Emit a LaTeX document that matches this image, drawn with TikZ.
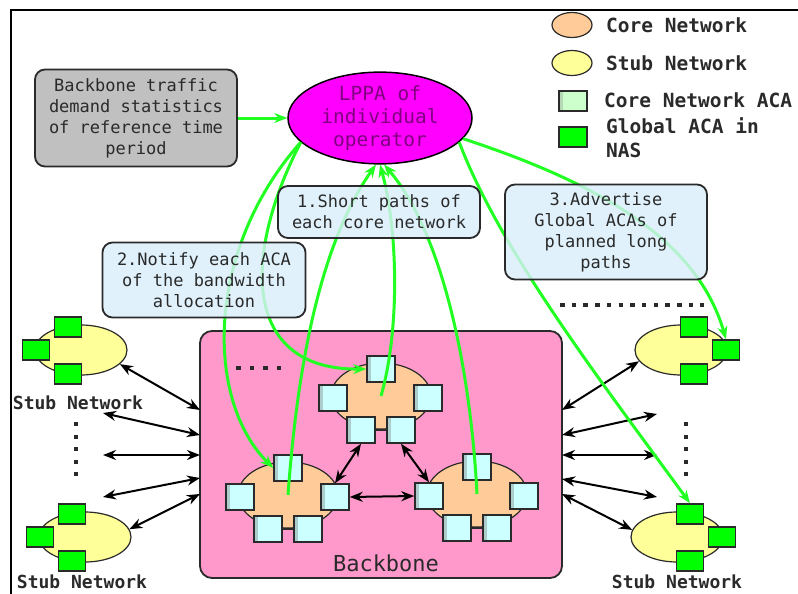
\documentclass[tikz,border=0pt]{standalone}
\usepackage{fontspec}
\newfontfamily\boxfont{DejaVu Sans Mono}
\usetikzlibrary{arrows.meta,shapes.geometric,calc}

\definecolor{agreen}{HTML}{22FF22}
\definecolor{gaca}{HTML}{00FF00}
\definecolor{caca}{HTML}{CCFFFF}
\definecolor{legaca}{HTML}{CCFFCC}
\definecolor{coref}{HTML}{FFCC99}
\definecolor{stubf}{HTML}{FFFF99}
\definecolor{bbf}{HTML}{FF99CC}
\definecolor{boxf}{HTML}{D9EEFB}
\definecolor{grayf}{HTML}{C0C0C0}
\definecolor{lppaf}{HTML}{FF00FF}
\definecolor{lppat}{HTML}{800080}
\definecolor{ink}{HTML}{2A2A2A}

\tikzset{
  leftshade/.style={path picture={\fill[#1] (path picture bounding box.south west) rectangle ([xshift=4pt]path picture bounding box.north west);}},
  coreell/.style={ellipse, draw=ink, line width=1.2pt, fill=coref, minimum width=100pt, minimum height=66pt, inner sep=0pt},
  acasq/.style={rectangle, draw=ink, line width=1.5pt, fill=caca, leftshade=caca!60!gray, minimum width=28pt, minimum height=26pt, inner sep=0pt},
  stubell/.style={ellipse, draw=ink, line width=1.2pt, fill=stubf, minimum width=92pt, minimum height=50pt, inner sep=0pt},
  gsq/.style={rectangle, draw=ink, line width=1.5pt, fill=gaca, minimum width=27pt, minimum height=20pt, inner sep=0pt},
  msgbox/.style={rectangle, draw=ink, line width=1.8pt, rounded corners=10pt, fill=boxf, fill opacity=0.8, text opacity=1, text=ink, align=center, inner sep=0pt, font=\boxfont\fontsize{17}{21}\selectfont},
  lppa/.style={ellipse, draw=black, line width=1.5pt, fill=lppaf, minimum width=184pt, minimum height=90pt, inner sep=0pt, align=center, text=lppat, font=\boxfont\fontsize{19.5}{23}\selectfont},
  legtext/.style={anchor=west, align=left, text=ink, inner sep=0pt, font=\boxfont\bfseries\fontsize{19.5}{24}\selectfont},
  stubtext/.style={text=ink, inner sep=0pt, font=\boxfont\bfseries\fontsize{18}{22}\selectfont},
  garrow/.style={draw=agreen, line width=3pt, -{Stealth[length=13pt,width=10pt]}},
  dbl/.style={draw=black, line width=2pt, {Stealth[length=13pt,width=10pt]}-{Stealth[length=13pt,width=10pt]}},
  dotline/.style={draw=ink, line width=4pt},
}

% a core network: ellipse with five core ACA squares
\newcommand\corenet[3]{%
  \node[coreell] (#1) at (#2,#3) {};
  \draw[ink, line width=1.2pt] ($(#1)+(-20,34)$) -- ($(#1)+(20,34)$);
  \node[acasq] (#1-t) at ($(#1)+(0,-27)$) {};
  \node[acasq] (#1-l) at ($(#1)+(-48,2)$) {};
  \node[acasq] (#1-r) at ($(#1)+(47,2)$) {};
  \node[acasq] (#1-bl) at ($(#1)+(-20,34)$) {};
  \node[acasq] (#1-br) at ($(#1)+(20,34)$) {};
}
% a stub network: ellipse with three global ACA squares; #4 = -1 (left) or 1 (right)
\newcommand\stubnet[4]{%
  \node[stubell] (#1) at (#2,#3) {};
  \node[gsq] (#1-t) at ($(#1)+(#4*13,-23)$) {};
  \node[gsq] (#1-s) at ($(#1)+(#4*45,0)$) {};
  \node[gsq] (#1-b) at ($(#1)+(#4*13,24)$) {};
}

\begin{document}
\begin{tikzpicture}[x=1pt,y=-1pt]
\useasboundingbox (0,0) rectangle (798,594);
\clip (0,0) rectangle (798,594);
\fill[white] (0,0) rectangle (798,594);

% frame
\draw[black, line width=2pt] (11,600) -- (11,10) -- (805,10);

% legend
\node[coreell, minimum width=40pt, minimum height=25pt] (lgcore) at (572,25) {};
\node[legtext] (lgcoret) at (606,25) {Core Network};
\node[stubell, minimum width=40pt, minimum height=25pt] (lgstub) at (572,63) {};
\node[legtext] (lgstubt) at (606,63) {Stub Network};
\node[acasq, fill=legaca, leftshade=legaca!70!gray, minimum width=28pt, minimum height=20pt] (lgaca) at (573,101) {};
\node[legtext] (lgacat) at (604,100) {Core Network ACA};
\node[gsq, minimum width=28pt, minimum height=20pt] (lggaca) at (573,137) {};
\node[legtext, anchor=north west] (lggacat) at (606,117) {Global ACA in\\NAS};

% backbone with its three core networks
\node[rectangle, draw=ink, line width=1.8pt, rounded corners=12pt, fill=bbf, minimum width=362pt, minimum height=247pt] (bb) at (381,454.5) {};
\node[text=ink, inner sep=0pt, font=\boxfont\fontsize{22}{26}\selectfont] (bbt) at (386,563) {Backbone};
\draw[dotline, dash pattern=on 4.5pt off 9pt] (236,368) -- (281,368);
\corenet{tc}{381}{396}
\corenet{blc}{288}{495}
\corenet{brc}{477}{494}
\draw[dbl] (tc-bl.south) -- (blc-r.north);
\draw[dbl] (tc-br.south) -- (brc-l.north);
\draw[dbl] (blc-r.east) -- (brc-l.west);

% stub networks
\stubnet{stl}{81}{350}{-1}
\stubnet{sbl}{85}{537}{-1}
\stubnet{str}{681}{350}{1}
\stubnet{sbr}{677}{537}{1}
\node[stubtext] (stlt) at (78,403) {Stub Network};
\node[stubtext] (sblt) at (82,582) {Stub Network};
\node[stubtext] (sbrt) at (677,582) {Stub Network};
\draw[dotline, dash pattern=on 4pt off 8.5pt] (76,422) -- (76,477);
\draw[dotline, dash pattern=on 4pt off 8.5pt] (686,422) -- (686,477);
\draw[dotline, dash pattern=on 4.5pt off 7.2pt] (560,305) -- (704,305);

% links between stub networks and the backbone
\coordinate (lb1) at (200,410);
\coordinate (lb2) at (200,435);
\coordinate (lb3) at (200,455);
\coordinate (lb4) at (200,478);
\coordinate (lb5) at (200,494);
\coordinate (rb1) at (562,410);
\coordinate (rb2) at (562,435);
\coordinate (rb3) at (562,455);
\coordinate (rb4) at (562,479);
\coordinate (rb5) at (562,494);
\coordinate (lf2) at (103,413);
\coordinate (lf3) at (103,455);
\coordinate (lf4) at (103,497);
\coordinate (rf2) at (657,414);
\coordinate (rf3) at (657,455);
\coordinate (rf4) at (657,497);
\draw[dbl] (stl.-20) -- (lb1);
\draw[dbl] (lf2) -- (lb2);
\draw[dbl] (lf3) -- (lb3);
\draw[dbl] (lf4) -- (lb4);
\draw[dbl] (sbl.10) -- (lb5);
\draw[dbl] (rb1) -- (str.195);
\draw[dbl] (rb2) -- (rf2);
\draw[dbl] (rb3) -- (rf3);
\draw[dbl] (rb4) -- (rf4);
\draw[dbl] (rb5) -- (sbr.171);

% planning agent and its input
\node[lppa] (lppa) at (380,118) {LPPA of\\individual\\operator};
\node[msgbox, fill=grayf, fill opacity=1, minimum width=202pt, minimum height=97pt] (gray) at (136,118) {Backbone traffic\\demand statistics\\of reference time\\period};
\draw[garrow] (gray.east) -- (lppa.west);

% 2. notification to the core ACAs
\draw[garrow] (lppa.197) .. controls (205,250) and (205,400) .. (blc-t.west);
\draw[garrow] (lppa.197) .. controls (240,260) and (245,370) .. (tc-t.west);
% 1. short paths reported by each core network
\draw[garrow] (blc.center) .. controls (300,330) and (330,230) .. (lppa.-95);
\draw[garrow] (tc.center) .. controls (400,330) and (398,230) .. (lppa.south);
\draw[garrow] (brc.center) .. controls (470,360) and (440,230) .. (lppa.-85);
% 3. advertised global ACAs
\draw[garrow] (lppa.-14) .. controls (620,190) and (700,250) .. (str-s.north);
\draw[garrow] (lppa.-17) .. controls (500,250) and (600,380) .. (sbr-t.north);

% message labels
\node[msgbox, minimum width=202pt, minimum height=52pt] (m1) at (379,212) {1.Short paths of\\each core network};
\node[msgbox, minimum width=203pt, minimum height=75pt] (m2) at (204,280) {2.Notify each ACA\\of the bandwidth\\allocation};
\node[msgbox, minimum width=202pt, minimum height=95pt] (m3) at (606,232) {3.Advertise\\Global ACAs of\\planned long\\paths};
\end{tikzpicture}
\end{document}
